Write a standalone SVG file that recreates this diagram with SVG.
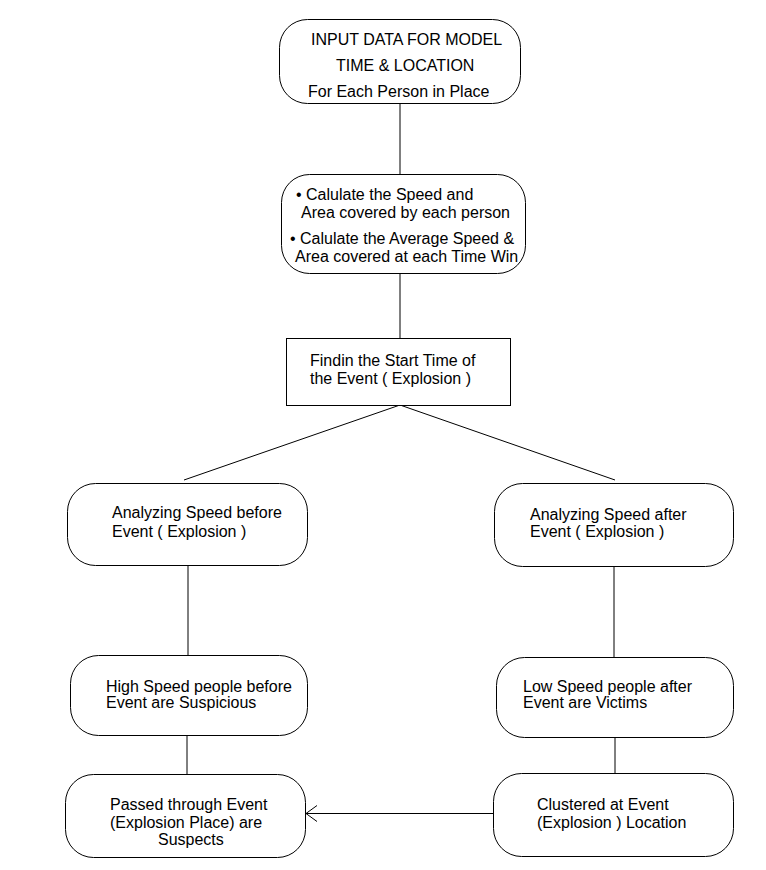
<svg xmlns="http://www.w3.org/2000/svg" width="766" height="870" viewBox="0 0 766 870">
<defs>
<style>
.n{fill:#fff;stroke:#000;stroke-width:1}
.t{font-family:"Liberation Sans",Arial,sans-serif;font-size:16px;fill:#000}
.c{stroke:#000;stroke-width:1;fill:none}
</style>
</defs>
<rect width="766" height="870" fill="#fff"/>
<g id="connectors">
<line class="c" x1="400" y1="103" x2="400" y2="174"/>
<line class="c" x1="400" y1="273" x2="400" y2="338"/>
<line class="c" x1="400" y1="405" x2="184" y2="480"/>
<line class="c" x1="400" y1="405" x2="615" y2="480"/>
<line class="c" x1="188" y1="565" x2="188" y2="655"/>
<line class="c" x1="614" y1="566" x2="614" y2="657"/>
<line class="c" x1="187" y1="735" x2="187" y2="774"/>
<line class="c" x1="615" y1="737" x2="615" y2="773"/>
<line class="c" x1="493" y1="813.5" x2="306" y2="813.5"/>
<path class="c" d="M317,805.5 L306,813.5 L317,821.5"/>
</g>
<g id="input">
<rect class="n" x="279.5" y="19.5" width="241" height="84" rx="28" ry="28"/>
<text class="t" x="311" y="45">INPUT DATA FOR MODEL</text>
<text class="t" x="336" y="71">TIME &amp; LOCATION</text>
<text class="t" x="308" y="97">For Each Person in Place</text>
</g>
<g id="calculate">
<rect class="n" x="281.5" y="174.5" width="244" height="99" rx="28" ry="28"/>
<text class="t" x="296" y="200">• Calulate the Speed and</text>
<text class="t" x="301" y="218">Area covered by each person</text>
<text class="t" x="290" y="244">• Calulate the Average Speed &amp;</text>
<text class="t" x="295" y="262">Area covered at each Time Win</text>
</g>
<g id="findstart">
<rect class="n" x="286.5" y="338.5" width="224" height="67"/>
<text class="t" x="310" y="366">Findin the Start Time of</text>
<text class="t" x="310" y="384">the Event ( Explosion )</text>
</g>
<g id="before">
<rect class="n" x="67.5" y="483.5" width="240" height="82" rx="28" ry="28"/>
<text class="t" x="112" y="518">Analyzing Speed before</text>
<text class="t" x="112" y="537">Event ( Explosion )</text>
</g>
<g id="after">
<rect class="n" x="494.5" y="483.5" width="239" height="83" rx="28" ry="28"/>
<text class="t" x="530" y="520">Analyzing Speed after</text>
<text class="t" x="530" y="537">Event ( Explosion )</text>
</g>
<g id="highspeed">
<rect class="n" x="70.5" y="655.5" width="237" height="80" rx="28" ry="28"/>
<text class="t" x="106" y="692">High Speed people before</text>
<text class="t" x="106" y="708">Event are Suspicious</text>
</g>
<g id="lowspeed">
<rect class="n" x="496.5" y="657.5" width="237" height="80" rx="28" ry="28"/>
<text class="t" x="523" y="692">Low Speed people after</text>
<text class="t" x="523" y="708">Event are Victims</text>
</g>
<g id="suspects">
<rect class="n" x="65.5" y="774.5" width="240" height="83" rx="28" ry="28"/>
<text class="t" x="110" y="810">Passed through Event</text>
<text class="t" x="110" y="828">(Explosion Place) are</text>
<text class="t" x="158" y="845">Suspects</text>
</g>
<g id="clustered">
<rect class="n" x="493.5" y="773.5" width="240" height="83" rx="28" ry="28"/>
<text class="t" x="537" y="810">Clustered at Event</text>
<text class="t" x="537" y="828">(Explosion ) Location</text>
</g>
</svg>
